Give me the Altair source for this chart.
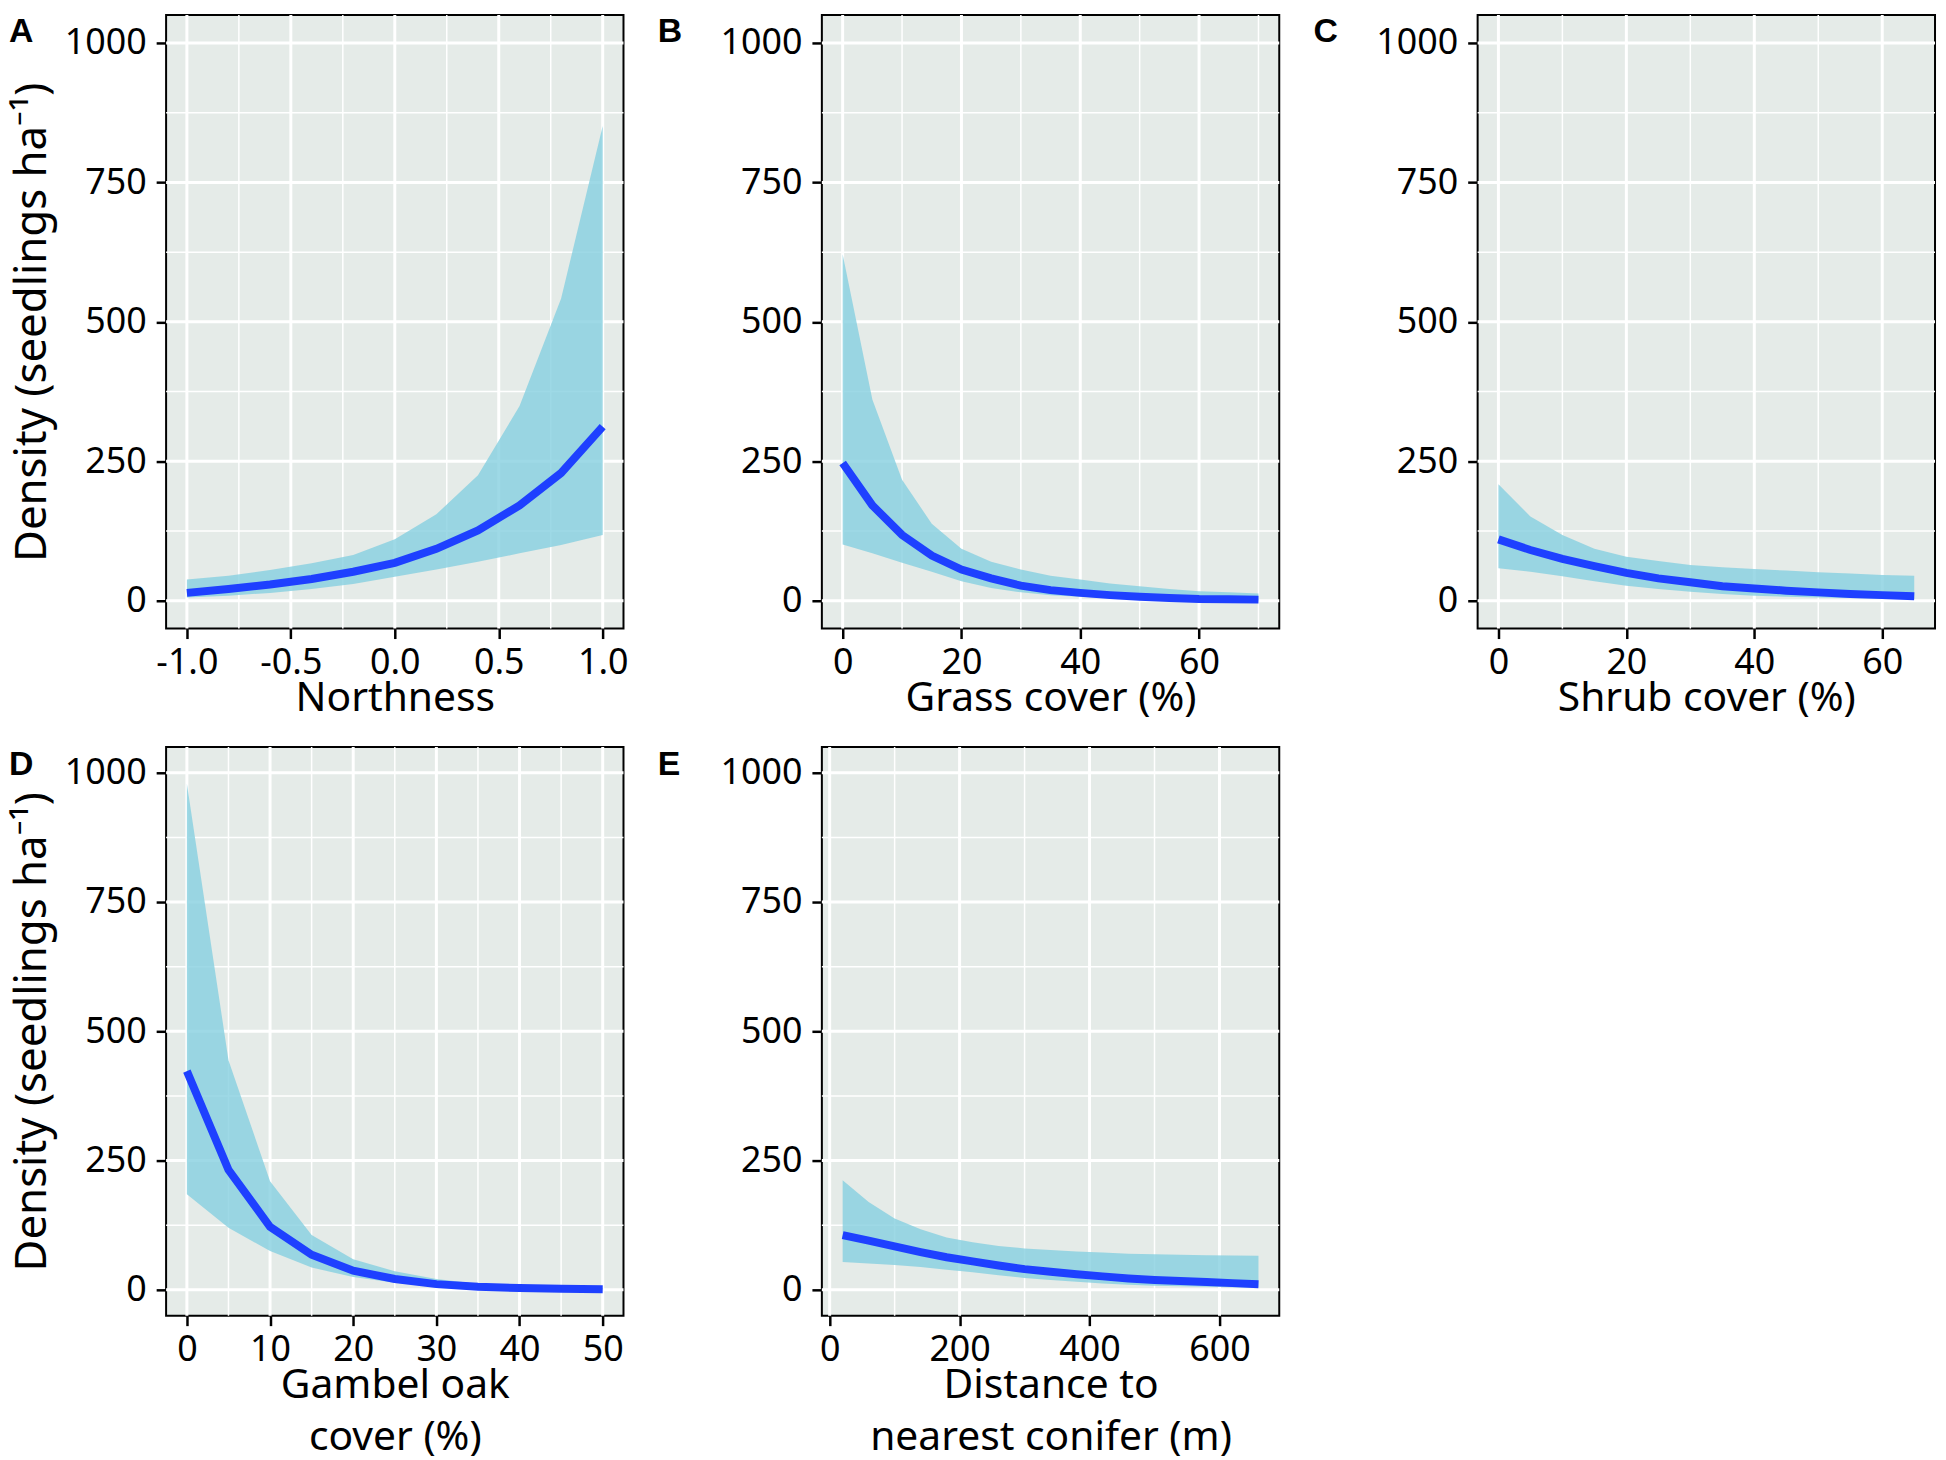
import altair as alt
import pandas as pd

# ---------------- data ----------------
A_x = [-1.0, -0.8, -0.6, -0.4, -0.2, 0.0, 0.2, 0.4, 0.6, 0.8, 1.0]
A_mean = [14, 21, 29, 39, 52, 68, 93, 126, 171, 229, 312]
A_upper = [38, 45, 55, 67, 82, 110, 155, 225, 349, 542, 851]
A_lower = [6, 9, 14, 21, 30, 43, 56, 70, 85, 100, 118]

B_x = [0, 5, 10, 15, 20, 25, 30, 35, 40, 45, 50, 55, 60, 65, 70]
B_mean = [247, 171, 118, 81, 56, 40, 27, 19, 14, 10, 7, 5, 3, 2.5, 2]
B_upper = [621, 361, 217, 138, 93, 70, 56, 45, 38, 31, 26, 21, 17, 15, 13]
B_lower = [101, 85, 68, 52, 35, 23, 15, 10, 7, 5, 3, 2, 1.5, 1, 0.5]

C_x = [0, 5, 10, 15, 20, 25, 30, 35, 40, 45, 50, 55, 60, 65]
C_mean = [110, 91, 75, 62, 50, 40, 33, 26, 22, 18, 15, 12, 10, 8]
C_upper = [209, 151, 118, 93, 79, 71, 64, 60, 57, 54, 51, 49, 46, 45]
C_lower = [58, 52, 44, 35, 27, 21, 16, 12, 9, 7, 6, 5, 4, 3]

D_x = [0, 5, 10, 15, 20, 25, 30, 35, 40, 45, 50]
D_mean = [423, 232, 122, 68, 37, 21, 11, 6, 3.5, 2, 1]
D_upper = [979, 444, 210, 106, 59, 36, 21, 12, 7, 4.5, 3]
D_lower = [185, 120, 75, 43, 25, 13.5, 8, 4.5, 2.7, 1.5, 1]

E_x = [20, 60, 100, 140, 180, 220, 260, 300, 340, 380, 420, 460, 500, 540, 580, 620, 660]
E_mean = [106, 95, 84, 73, 63, 55, 47, 40, 35, 30, 26, 22, 19, 17, 15, 13, 11]
E_upper = [212, 170, 138, 117, 101, 92, 85, 80, 77, 74, 72, 70, 69, 68, 67, 66.5, 66]
E_lower = [54, 51, 48, 44, 39, 34, 28, 23, 19, 15.5, 12.5, 10, 8, 7, 6, 5, 4.5]

Y_MAJOR = [0, 250, 500, 750, 1000]
Y_MINOR = [125, 375, 625, 875]
Y_DOMAIN = [-50, 1050]
Y_TITLE = "Density (seedlings ha\u207b\u00b9)"

FONT = "Noto Sans"
RIBBON = "#86CFE0"
LINE = "#1E40FF"

W = 460
H1 = 617
H2 = 572


def panel(x, lo, mean, hi, xdom, xmaj, xmin, xtitle, ytitle, letter, letter_x, letter_y,
          height, label_expr):
    df = pd.DataFrame({"x": x, "lo": lo, "mean": mean, "hi": hi})
    xaxis = alt.Axis(values=xmaj, title=xtitle, labelExpr=label_expr, grid=False,
                     labelPadding=7, titlePadding=-2, titleLineHeight=53)
    if ytitle:
        yaxis = alt.Axis(values=Y_MAJOR, title=ytitle, format="d", grid=False,
                         labelPadding=10, titlePadding=10, titleFontSize=44)
    else:
        yaxis = alt.Axis(values=Y_MAJOR, title=None, format="d", grid=False,
                         labelPadding=10)

    def X(f):
        return alt.X(f"{f}:Q", scale=alt.Scale(domain=xdom, nice=False, zero=False), axis=xaxis)

    def Y(f):
        return alt.Y(f"{f}:Q", scale=alt.Scale(domain=Y_DOMAIN, nice=False, zero=False), axis=yaxis)

    minor_v = alt.Chart(pd.DataFrame({"g": xmin})).mark_rule(color="white", strokeWidth=1.5).encode(x=X("g"))
    major_v = alt.Chart(pd.DataFrame({"g": xmaj})).mark_rule(color="white", strokeWidth=3).encode(x=X("g"))
    minor_h = alt.Chart(pd.DataFrame({"g": Y_MINOR})).mark_rule(color="white", strokeWidth=1.5).encode(y=Y("g"))
    major_h = alt.Chart(pd.DataFrame({"g": Y_MAJOR})).mark_rule(color="white", strokeWidth=3).encode(y=Y("g"))

    ribbon = alt.Chart(df).mark_area(color=RIBBON, opacity=0.8).encode(
        x=X("x"), y=Y("lo"), y2=alt.Y2("hi:Q"))
    line = alt.Chart(df).mark_line(color=LINE, strokeWidth=8, strokeCap="butt").encode(
        x=X("x"), y=Y("mean"))
    lab = alt.Chart(pd.DataFrame({"t": [letter]})).mark_text(
        font="Liberation Sans", fontSize=34, fontWeight="bold", align="left", baseline="top",
        color="black"
    ).encode(text="t:N", x=alt.value(letter_x), y=alt.value(letter_y))

    return alt.layer(minor_v, minor_h, major_v, major_h, ribbon, line, lab).properties(
        width=W, height=height)


dec_expr = "datum.value < 0 ? '-' + format(-datum.value, '.1f') : format(datum.value, '.1f')"
int_expr = "format(datum.value, 'd')"

pA = panel(A_x, A_lower, A_mean, A_upper, [-1.1, 1.1], [-1.0, -0.5, 0.0, 0.5, 1.0],
           [-0.75, -0.25, 0.25, 0.75], "Northness", Y_TITLE, "A", -158, 0, H1, dec_expr)
pB = panel(B_x, B_lower, B_mean, B_upper, [-3.5, 73.5], [0, 20, 40, 60],
           [10, 30, 50, 70], "Grass cover (%)", None, "B", -165, 0, H1, int_expr)
pC = panel(C_x, C_lower, C_mean, C_upper, [-3.25, 68.25], [0, 20, 40, 60],
           [10, 30, 50], "Shrub cover (%)", None, "C", -165, 0, H1, int_expr)
pD = panel(D_x, D_lower, D_mean, D_upper, [-2.5, 52.5], [0, 10, 20, 30, 40, 50],
           [5, 15, 25, 35, 45], ["Gambel oak", "cover (%)"], Y_TITLE, "D", -158, 1.5, H2, int_expr)
pE = panel(E_x, E_lower, E_mean, E_upper, [-12, 692], [0, 200, 400, 600],
           [100, 300, 500], ["Distance to", "nearest conifer (m)"], None, "E", -165, 1.5, H2, int_expr)

chart = alt.concat(pA, pB, pC, pD, pE, columns=3,
                   spacing={"row": 119, "column": 199.5}, bounds="flush").properties(
    padding={"left": 0, "top": 0, "right": 0, "bottom": 0}
).configure_view(
    fill="#E5EBE8", stroke="black", strokeWidth=2
).configure_axis(
    labelFont=FONT, labelFontSize=36, labelColor="black",
    titleFont=FONT, titleFontSize=41, titleFontWeight="normal", titleColor="black",
    tickColor="black", tickSize=10, tickWidth=2.5, domain=False
)

chart.save("out.html", embed_options={"renderer": "svg", "actions": False})
